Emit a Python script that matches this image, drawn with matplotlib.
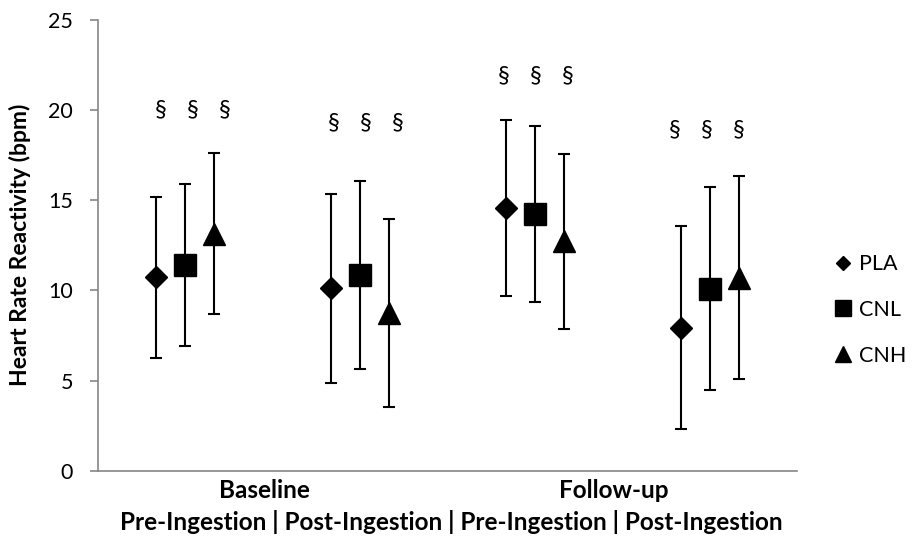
import numpy as np
import matplotlib
matplotlib.use('Agg')
import matplotlib.pyplot as plt
from matplotlib.lines import Line2D
from matplotlib.transforms import blended_transform_factory

plt.rcParams['font.family'] = ['Lato', 'DejaVu Sans']

# Datos
periodos = ['Baseline\nPre-Ingestion', 'Baseline\nPost-Ingestion',
            'Follow-up\nPre-Ingestion', 'Follow-up\nPost-Ingestion']
grupos = ['PLA', 'CNL', 'CNH']

pla_media = [10.72, 10.11, 14.55, 7.94]
cnl_media = [11.40, 10.86, 14.22, 10.09]
cnh_media = [13.15, 8.75, 12.71, 10.71]

pla_sd = [4.47, 5.22, 4.87, 5.62]
cnl_sd = [4.48, 5.22, 4.88, 5.62]
cnh_sd = [4.46, 5.21, 4.87, 5.62]

# Posicion vertical de las marcas de significancia
sig_y = [19.98, 19.26, 21.9, 18.87]

medias = [pla_media, cnl_media, cnh_media]
sds = [pla_sd, cnl_sd, cnh_sd]
marcadores = ['D', 's', '^']
tamanos = [11.5, 15.5, 16.5]
desplaz = [-0.166, 0.0, 0.166]

fig = plt.figure(figsize=(9.13, 5.42), dpi=100)
ax = fig.add_axes([0.1073, 0.131, 0.7657, 0.833])

x = np.arange(len(periodos))
for m, s, mk, ms, dx, g in zip(medias, sds, marcadores, tamanos, desplaz, grupos):
    ax.errorbar(x + dx, m, yerr=s, fmt=mk, color='black', markersize=ms,
                ecolor='black', elinewidth=1.5, capsize=4.3, capthick=1.5,
                label=g, zorder=3)

# Marcas de significancia
sig_dx = [0.04, 0.03, 0.005, -0.02]
for i in range(len(periodos)):
    for k in (-1, 0, 1):
        ax.text(x[i] + sig_dx[i] + k * 0.183, sig_y[i], '§', ha='center',
                va='center', fontsize=17)

ax.set_xlim(-0.5, 3.5)
ax.set_ylim(0, 25)
ax.set_yticks([0, 5, 10, 15, 20, 25])
ax.set_xticks([])
for lado in ['top', 'right']:
    ax.spines[lado].set_visible(False)
for lado in ['left', 'bottom']:
    ax.spines[lado].set_color('#868686')
    ax.spines[lado].set_linewidth(1.2)
ax.tick_params(axis='y', length=6, width=1.2, color='#868686', pad=12,
               labelsize=15.5)

ax.set_ylabel('Heart Rate Reactivity (bpm)', fontsize=16.5, fontweight='bold',
              labelpad=12)

# Etiquetas del eje x
tr = blended_transform_factory(ax.transData, fig.transFigure)
ax.text(0.45, 1 - 491 / 542, 'Baseline', transform=tr, ha='center',
        va='center', fontsize=17.5, fontweight='bold')
ax.text(2.45, 1 - 491 / 542, 'Follow-up', transform=tr, ha='center',
        va='center', fontsize=17.5, fontweight='bold')
ax.text(1.52, 1 - 522 / 542,
        'Pre-Ingestion | Post-Ingestion | Pre-Ingestion | Post-Ingestion',
        transform=tr, ha='center', va='center', fontsize=17.5,
        fontweight='bold')

# Leyenda
handles = [Line2D([], [], marker='D', color='black', linestyle='none', markersize=7),
           Line2D([], [], marker='s', color='black', linestyle='none', markersize=11.5),
           Line2D([], [], marker='^', color='black', linestyle='none', markersize=12)]
fig.legend(handles, grupos, loc='center left', bbox_to_anchor=(0.903, 0.428),
           frameon=False, fontsize=15.5, labelspacing=1.2, handlelength=0.7,
           handletextpad=0.4, borderpad=0)

fig.savefig('out.png', dpi=100)
